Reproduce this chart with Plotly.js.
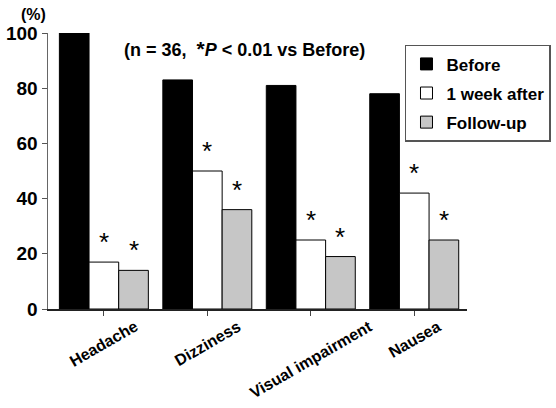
<!DOCTYPE html>
<html>
<head>
<meta charset="utf-8">
<script src="https://cdn.plot.ly/plotly-3.0.1.min.js"></script>
<style>html,body{margin:0;padding:0;background:#fff;}#chart{width:556px;height:408px;}</style>
</head>
<body>
<div id="chart"></div>
<script>
var categories = ["Headache", "Dizziness", "Visual impairment", "Nausea"];
var seriesNames = ["Before", "1 week after", "Follow-up"];
var before = [100, 83, 81, 78];
var weekAfter = [17, 50, 25, 42];
var followUp = [14, 36, 19, 25];
var significant = [false, true, true]; // asterisk marks per series
var yTicks = [0, 20, 40, 60, 80, 100];

var FONT = "Arial, 'Liberation Sans', sans-serif";
var colors = ["#000000", "#ffffff", "#c6c6c6"];
var allSeries = [before, weekAfter, followUp];
var bargap = 0.14;
var barW = (1 - bargap) / allSeries.length;

var traces = allSeries.map(function (vals, s) {
  return {
    type: "bar",
    name: seriesNames[s],
    x: categories,
    y: vals,
    legendgroup: "g" + s,
    marker: {color: colors[s], line: {color: "#000", width: 1}},
    hoverinfo: "skip"
  };
});

var annotations = [];
// asterisks from data
allSeries.forEach(function (vals, s) {
  if (!significant[s]) return;
  vals.forEach(function (v, i) {
    annotations.push({
      x: i + (s - 1) * barW, y: v, xref: "x", yref: "y",
      text: "*", showarrow: false, yanchor: "bottom", yshift: 3,
      font: {family: FONT, size: 26, color: "#000"}
    });
  });
});
// category labels (rotated, centred under tick)
categories.forEach(function (c, i) {
  annotations.push({
    x: i, y: -0.05, xref: "x", yref: "paper", yshift: 8,
    text: "<b>" + c + "</b>", showarrow: false, textangle: -30,
    xanchor: "center", yanchor: "top",
    font: {family: FONT, size: 16, color: "#000"}
  });
});
annotations.push({
  x: 0, y: 1.0, xref: "paper", yref: "paper", xanchor: "right", yanchor: "bottom",
  xshift: 0, yshift: 8, text: "<b>(%)</b>", showarrow: false,
  font: {family: FONT, size: 16, color: "#000"}
});
annotations.push({
  x: 0, y: 0, xref: "paper", yref: "paper", showarrow: false, xanchor: "left",
  text: "<b>(n = 36,  <span style='font-size:21px'>*</span><i>P</i> &lt; 0.01 vs Before)</b>",
  font: {family: FONT, size: 18, color: "#000"}
});

var layout = {
  width: 556, height: 408,
  margin: {l: 48, r: 89, t: 33, b: 99, autoexpand: false},
  paper_bgcolor: "#fff", plot_bgcolor: "#fff",
  barmode: "group", bargap: bargap, bargroupgap: 0,
  showlegend: true,
  legend: {
    x: 0.852, y: 0.957, xanchor: "left", yanchor: "top",
    bgcolor: "#fff", bordercolor: "#555", borderwidth: 1.5,
    traceorder: "grouped", tracegroupgap: 4,
    font: {family: FONT, size: 17, color: "#000", weight: "bold"}
  },
  xaxis: {
    type: "category", range: [-0.54, 3.51],
    showticklabels: false, ticks: "outside", ticklen: 5, tickcolor: "#444",
    showline: true, linecolor: "#222", linewidth: 1.5,
    showgrid: false, zeroline: false, fixedrange: true
  },
  yaxis: {
    range: [0, 100], tickvals: yTicks, ticktext: yTicks.map(function (t) { return "<b>" + t + "</b>"; }),
    ticks: "outside", ticklen: 5, tickcolor: "#555",
    showline: true, linecolor: "#666", linewidth: 1.5,
    showgrid: false, zeroline: false, fixedrange: true,
    tickfont: {family: FONT, size: 19, color: "#000"}
  },
  annotations: annotations
};

// subtitle position in pixels -> paper coordinates
var pw = 556 - 48 - 89, ph = 408 - 33 - 99;
var sub = annotations[annotations.length - 1];
sub.x = (122 - 48) / pw; sub.y = (408 - 99 - 35) / ph;

Plotly.newPlot("chart", traces, layout, {staticPlot: true});
</script>
</body>
</html>
